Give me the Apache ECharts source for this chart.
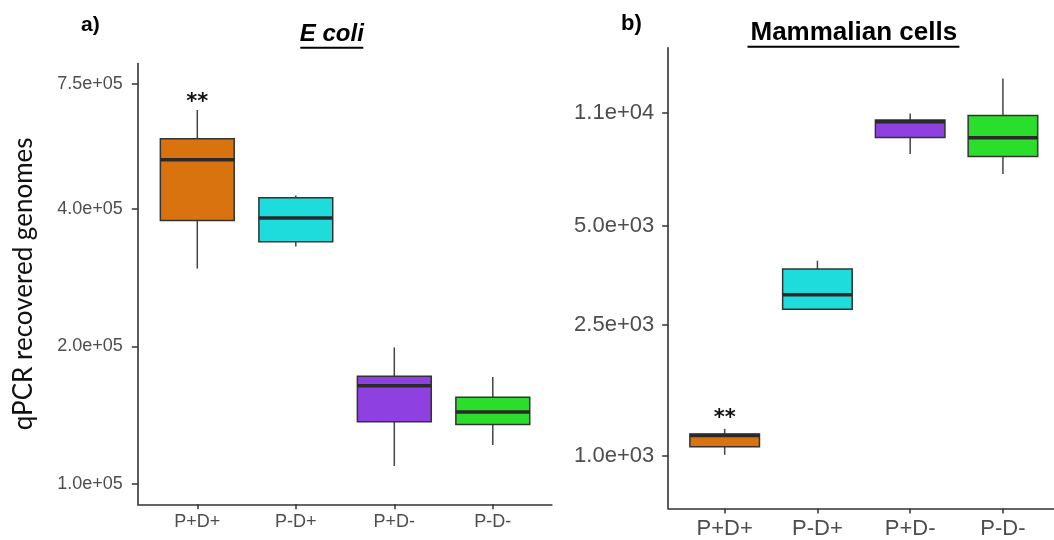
<!DOCTYPE html>
<html><head><meta charset="utf-8">
<script src="https://cdn.jsdelivr.net/npm/echarts@6/dist/echarts.min.js"></script>
<style>html,body{margin:0;padding:0;background:#fff}#c{width:1054px;height:540px}</style>
</head><body><div id="c"></div>
<script>
const categories = ['P+D+', 'P-D+', 'P+D-', 'P-D-'];
const boxColors = ['#D9730F', '#1EDCDC', '#8E40E0', '#2BDE2B'];

// Panel a) E coli
const ecoliMin    = [296000, 331000, 109500, 121700];
const ecoliQ1     = [377000, 339000, 136800, 135000];
const ecoliMedian = [512000, 382000, 164000, 143800];
const ecoliQ3     = [569000, 423000, 172000, 154900];
const ecoliMax    = [658000, 428000, 199000, 171500];
const ecoliSig    = ['**', '', '', ''];
const ecoliTickValues = [100000, 200000, 400000, 750000];
const ecoliTickLabels = ['1.0e+05', '2.0e+05', '4.0e+05', '7.5e+05'];

// Panel b) Mammalian cells
const mammMin    = [1007, 2786, 8253, 7175];
const mammQ1     = [1065, 2786, 9270, 8120];
const mammMedian = [1152, 3087, 10342, 9250];
const mammQ3     = [1166, 3694, 10465, 10814];
const mammMax    = [1208, 3915, 10960, 14000];
const mammSig    = ['**', '', '', ''];
const mammTickValues = [1000, 2500, 5000, 11000];
const mammTickLabels = ['1.0e+03', '2.5e+03', '5.0e+03', '1.1e+04'];

function rows(mn, q1, md, q3, mx) {
  return categories.map((c, i) => [i, mn[i], q1[i], md[i], q3[i], mx[i]]);
}
function labelMaker(vals, labels) {
  return function (v) {
    for (let i = 0; i < vals.length; i++) {
      if (Math.abs(v - vals[i]) / vals[i] < 1e-4) return labels[i];
    }
    return '';
  };
}
function boxRenderer(sig, starGap) {
  return function (params, api) {
    const i = api.value(0);
    const lo = api.coord([i, api.value(1)]);
    const q1 = api.coord([i, api.value(2)]);
    const md = api.coord([i, api.value(3)]);
    const q3 = api.coord([i, api.value(4)]);
    const hi = api.coord([i, api.value(5)]);
    const cx = md[0];
    const bw = api.size([1, 0], [i, api.value(3)])[0] * 0.75;
    const children = [
      {type: 'line', shape: {x1: cx, y1: hi[1], x2: cx, y2: q3[1]}, style: {stroke: '#444', lineWidth: 1.5}},
      {type: 'line', shape: {x1: cx, y1: q1[1], x2: cx, y2: lo[1]}, style: {stroke: '#444', lineWidth: 1.5}},
      {type: 'rect', shape: {x: cx - bw / 2, y: q3[1], width: bw, height: q1[1] - q3[1]},
        style: {fill: boxColors[i], stroke: '#333', lineWidth: 1.5}},
      {type: 'line', shape: {x1: cx - bw / 2, y1: md[1], x2: cx + bw / 2, y2: md[1]},
        style: {stroke: '#2a2a2a', lineWidth: 3.5}}
    ];
    if (sig[i]) {
      children.push({type: 'text', x: cx, y: hi[1] - starGap,
        style: {text: sig[i], fill: '#111', fontSize: 21, fontWeight: 'bold', fontFamily: 'DejaVu Sans',
          align: 'center', verticalAlign: 'middle', textAlign: 'center', textVerticalAlign: 'middle'}});
    }
    return {type: 'group', children: children};
  };
}

const axisColor = '#333';
const labelColor = '#4d4d4d';
const fontFam = 'Liberation Sans';

const chart = echarts.init(document.getElementById('c'), null, {renderer: 'canvas'});
chart.setOption({
  backgroundColor: '#fff',
  animation: false,
  grid: [
    {left: 148.05, width: 394, top: 63.5, height: 440.8},
    {left: 678.3, width: 371, top: 47.7, height: 461},
    {left: 137.8, width: 414.1, top: 63.5, height: 440.8},
    {left: 668.2, width: 385.8, top: 47.7, height: 461}
  ],
  xAxis: [
    {gridIndex: 0, type: 'category', data: categories, axisLine: {show: false},
      axisTick: {show: true, alignWithLabel: true, length: 5, lineStyle: {color: axisColor, width: 1.5}},
      axisLabel: {fontSize: 18, color: labelColor, margin: 9, fontFamily: fontFam}, splitLine: {show: false}},
    {gridIndex: 1, type: 'category', data: categories, axisLine: {show: false},
      axisTick: {show: true, alignWithLabel: true, length: 5, lineStyle: {color: axisColor, width: 1.5}},
      axisLabel: {fontSize: 22, color: labelColor, margin: 9.5, fontFamily: fontFam}, splitLine: {show: false}},
    {gridIndex: 2, type: 'value', min: 0, max: 1, axisLine: {show: true, onZero: false, lineStyle: {color: axisColor, width: 1.6}},
      axisTick: {show: false}, axisLabel: {show: false}, splitLine: {show: false}},
    {gridIndex: 3, type: 'value', min: 0, max: 1, axisLine: {show: true, onZero: false, lineStyle: {color: axisColor, width: 1.6}},
      axisTick: {show: false}, axisLabel: {show: false}, splitLine: {show: false}}
  ],
  yAxis: [
    {gridIndex: 0, type: 'log', logBase: 10, min: 90290, max: 831700, offset: 10.25,
      axisLine: {show: true, lineStyle: {color: axisColor, width: 1.6}},
      axisTick: {show: true, length: 6, lineStyle: {color: axisColor, width: 1.5}, customValues: ecoliTickValues},
      axisLabel: {customValues: ecoliTickValues, formatter: labelMaker(ecoliTickValues, ecoliTickLabels),
        fontSize: 18, color: labelColor, margin: 15, fontFamily: fontFam},
      minorTick: {show: false}, splitLine: {show: false},
      name: 'qPCR recovered genomes', nameLocation: 'middle', nameRotate: 90, nameGap: 101,
      nameTextStyle: {fontSize: 26, fontFamily: 'Lato', color: '#111'}},
    {gridIndex: 1, type: 'log', logBase: 10, min: 691.9, max: 17367, offset: 10.1,
      axisLine: {show: true, lineStyle: {color: axisColor, width: 1.6}},
      axisTick: {show: true, length: 6, lineStyle: {color: axisColor, width: 1.5}, customValues: mammTickValues},
      axisLabel: {customValues: mammTickValues, formatter: labelMaker(mammTickValues, mammTickLabels),
        fontSize: 22, color: labelColor, margin: 14, fontFamily: fontFam},
      minorTick: {show: false}, splitLine: {show: false}},
    {gridIndex: 2, type: 'value', min: 0, max: 1, show: false},
    {gridIndex: 3, type: 'value', min: 0, max: 1, show: false}
  ],
  series: [
    {type: 'custom', name: 'E coli', xAxisIndex: 0, yAxisIndex: 0,
      data: rows(ecoliMin, ecoliQ1, ecoliMedian, ecoliQ3, ecoliMax),
      encode: {x: 0, y: [1, 2, 3, 4, 5]}, renderItem: boxRenderer(ecoliSig, 7)},
    {type: 'custom', name: 'Mammalian cells', xAxisIndex: 1, yAxisIndex: 1,
      data: rows(mammMin, mammQ1, mammMedian, mammQ3, mammMax),
      encode: {x: 0, y: [1, 2, 3, 4, 5]}, renderItem: boxRenderer(mammSig, 10)}
  ],
  graphic: [
    {type: 'text', x: 81, y: 25, style: {text: 'a)', fill: '#000', fontSize: 21, fontWeight: 'bold', fontFamily: 'Liberation Sans',
      align: 'left', verticalAlign: 'middle'}},
    {type: 'text', x: 331.8, y: 34, style: {text: 'E coli', fill: '#000', fontSize: 24, fontWeight: 'bold', fontStyle: 'italic',
      fontFamily: 'Liberation Sans', align: 'center', verticalAlign: 'middle'}},
    {type: 'line', shape: {x1: 300.3, y1: 47.7, x2: 363.3, y2: 47.7}, style: {stroke: '#000', lineWidth: 2}},
    {type: 'text', x: 621, y: 24, style: {text: 'b)', fill: '#000', fontSize: 22, fontWeight: 'bold', fontFamily: 'Liberation Sans',
      align: 'left', verticalAlign: 'middle'}},
    {type: 'text', x: 853.8, y: 33, style: {text: 'Mammalian cells', fill: '#000', fontSize: 26, fontWeight: 'bold',
      fontFamily: 'Liberation Sans', align: 'center', verticalAlign: 'middle'}},
    {type: 'line', shape: {x1: 747.5, y1: 46.7, x2: 959.4, y2: 46.7}, style: {stroke: '#000', lineWidth: 2}}
  ]
});
</script>
</body></html>
